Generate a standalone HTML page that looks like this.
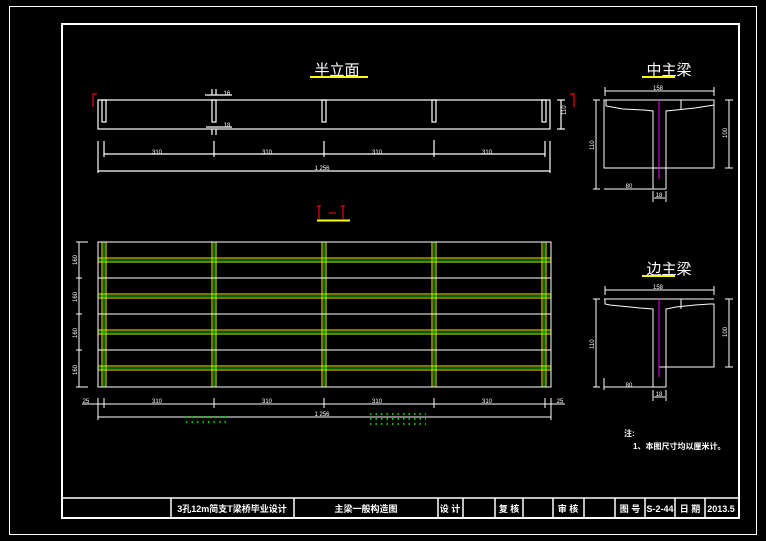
<!DOCTYPE html>
<html><head><meta charset="utf-8"><style>
html,body{margin:0;padding:0;background:#000;}
svg{display:block}
text{font-family:"Liberation Sans","Noto Sans CJK SC",sans-serif;fill:#fff}
</style></head><body>
<svg width="766" height="541" viewBox="0 0 766 541" xmlns="http://www.w3.org/2000/svg">
<rect x="0" y="0" width="766" height="541" fill="#000"/>
<rect x="9.5" y="6.5" width="747" height="528" fill="none" stroke="#fff" stroke-width="1"/>
<rect x="62" y="24" width="677" height="494" fill="none" stroke="#fff" stroke-width="2"/>
<g stroke="#fff" stroke-width="1.5" fill="none">
<line x1="62" y1="498" x2="739" y2="498"/>
<line x1="171" y1="498" x2="171" y2="518"/>
<line x1="294" y1="498" x2="294" y2="518"/>
<line x1="438" y1="498" x2="438" y2="518"/>
<line x1="463" y1="498" x2="463" y2="518"/>
<line x1="495" y1="498" x2="495" y2="518"/>
<line x1="523" y1="498" x2="523" y2="518"/>
<line x1="553" y1="498" x2="553" y2="518"/>
<line x1="584" y1="498" x2="584" y2="518"/>
<line x1="615" y1="498" x2="615" y2="518"/>
<line x1="645" y1="498" x2="645" y2="518"/>
<line x1="675" y1="498" x2="675" y2="518"/>
<line x1="705" y1="498" x2="705" y2="518"/>
</g>
<g font-size="9" font-weight="bold">
<text x="232" y="512" text-anchor="middle">3孔12m简支T梁桥毕业设计</text>
<text x="366" y="512" text-anchor="middle">主梁一般构造图</text>
<text x="450" y="512" text-anchor="middle">设 计</text>
<text x="509" y="512" text-anchor="middle">复 核</text>
<text x="568" y="512" text-anchor="middle">审 核</text>
<text x="630" y="512" text-anchor="middle">图 号</text>
<text x="660" y="512" text-anchor="middle">S-2-44</text>
<text x="690" y="512" text-anchor="middle">日 期</text>
<text x="721" y="512" text-anchor="middle">2013.5</text>
</g>

<text x="337" y="75" font-size="15" text-anchor="middle">半立面</text>
<line x1="310" y1="77" x2="368" y2="77" stroke="#ff0" stroke-width="2"/>
<g stroke="#fff" stroke-width="1.2" fill="none">
<rect x="98" y="100" width="452" height="29"/>
<rect x="102" y="100" width="4" height="22"/>
<rect x="212" y="100" width="4" height="22"/>
<rect x="322" y="100" width="4" height="22"/>
<rect x="432" y="100" width="4" height="22"/>
<rect x="542" y="100" width="4" height="22"/>
<line x1="205" y1="95" x2="232" y2="95"/><line x1="212" y1="89" x2="212" y2="95"/><line x1="216" y1="89" x2="216" y2="95"/>
<line x1="206" y1="127" x2="232" y2="127"/><line x1="212" y1="129" x2="212" y2="135"/><line x1="216" y1="129" x2="216" y2="135"/>
<line x1="561" y1="100" x2="561" y2="129"/><line x1="557" y1="100" x2="565" y2="100"/><line x1="557" y1="129" x2="565" y2="129"/>
<line x1="104" y1="154" x2="545" y2="154"/>
<line x1="104" y1="141" x2="104" y2="157"/><line x1="214" y1="141" x2="214" y2="157"/><line x1="324" y1="141" x2="324" y2="157"/><line x1="434" y1="140" x2="434" y2="157"/><line x1="545" y1="141" x2="545" y2="157"/>
<line x1="98" y1="171" x2="550" y2="171"/>
<line x1="98" y1="141" x2="98" y2="173"/><line x1="550" y1="141" x2="550" y2="173"/>
</g>
<g font-size="6" text-anchor="middle">
<text x="227" y="95">16</text><text x="227" y="127">18</text>
<text x="157" y="154">310</text><text x="267" y="154">310</text><text x="377" y="154">310</text><text x="487" y="154">310</text>
<text x="322" y="170">1 256</text>
</g>
<text x="563" y="118" font-size="6" transform="rotate(-90 563 115)">110</text>
<g stroke="#e00" stroke-width="1.2" fill="none">
<polyline points="93,107 93,94 97,94"/><polyline points="574,107 574,94 570,94"/>
<line x1="319" y1="206" x2="319" y2="219"/><line x1="343" y1="206" x2="343" y2="219"/>
<line x1="317" y1="206" x2="321" y2="206"/><line x1="341" y1="206" x2="345" y2="206"/>
<line x1="329" y1="213" x2="336" y2="213"/>
</g>
<line x1="317" y1="220.5" x2="350" y2="220.5" stroke="#ff0" stroke-width="2"/>

<g fill="none">
<g stroke="#ee0" stroke-width="1">
<line x1="98" y1="258" x2="551" y2="258"/><line x1="98" y1="262" x2="551" y2="262"/>
<line x1="98" y1="294" x2="551" y2="294"/><line x1="98" y1="298" x2="551" y2="298"/>
<line x1="98" y1="330" x2="551" y2="330"/><line x1="98" y1="334" x2="551" y2="334"/>
<line x1="98" y1="366" x2="551" y2="366"/><line x1="98" y1="370" x2="551" y2="370"/>
<line x1="102" y1="242" x2="102" y2="387"/><line x1="106" y1="242" x2="106" y2="387"/>
<line x1="212" y1="242" x2="212" y2="387"/><line x1="216" y1="242" x2="216" y2="387"/>
<line x1="322" y1="242" x2="322" y2="387"/><line x1="326" y1="242" x2="326" y2="387"/>
<line x1="432" y1="242" x2="432" y2="387"/><line x1="436" y1="242" x2="436" y2="387"/>
<line x1="542" y1="242" x2="542" y2="387"/><line x1="546" y1="242" x2="546" y2="387"/>
</g>
<g stroke="#0f0" stroke-width="0.8">
<line x1="98" y1="260" x2="551" y2="260"/><line x1="98" y1="296" x2="551" y2="296"/>
<line x1="98" y1="332" x2="551" y2="332"/><line x1="98" y1="368" x2="551" y2="368"/>
<line x1="104" y1="242" x2="104" y2="387"/><line x1="214" y1="242" x2="214" y2="387"/>
<line x1="324" y1="242" x2="324" y2="387"/><line x1="434" y1="242" x2="434" y2="387"/>
<line x1="544" y1="242" x2="544" y2="387"/>
</g>
<g stroke="#fff" stroke-width="1">
<rect x="98" y="242" width="453" height="145"/>
<line x1="98" y1="278" x2="551" y2="278"/><line x1="98" y1="314" x2="551" y2="314"/><line x1="98" y1="350" x2="551" y2="350"/>
<line x1="79" y1="242" x2="79" y2="387"/>
<line x1="76" y1="242" x2="88" y2="242"/><line x1="76" y1="278" x2="82" y2="278"/><line x1="76" y1="314" x2="82" y2="314"/><line x1="76" y1="350" x2="82" y2="350"/><line x1="76" y1="387" x2="88" y2="387"/>
<line x1="82" y1="404" x2="565" y2="404"/>
<line x1="98" y1="398" x2="98" y2="420"/><line x1="104" y1="398" x2="104" y2="408"/><line x1="214" y1="398" x2="214" y2="408"/><line x1="324" y1="398" x2="324" y2="408"/><line x1="434" y1="398" x2="434" y2="408"/><line x1="545" y1="398" x2="545" y2="408"/><line x1="551" y1="398" x2="551" y2="420"/>
<line x1="98" y1="417" x2="551" y2="417"/>
</g>
</g>
<g font-size="6" text-anchor="middle">
<text x="86" y="403">25</text><text x="560" y="403">25</text>
<text x="157" y="403">310</text><text x="267" y="403">310</text><text x="377" y="403">310</text><text x="487" y="403">310</text>
<text x="322" y="416">1 256</text>
</g>
<g font-size="6">
<text x="0" y="0" transform="translate(77,265) rotate(-90)">160</text>
<text x="0" y="0" transform="translate(77,302) rotate(-90)">160</text>
<text x="0" y="0" transform="translate(77,338) rotate(-90)">160</text>
<text x="0" y="0" transform="translate(77,375) rotate(-90)">160</text>
</g>
<g stroke="#0f0" stroke-width="1.5" stroke-dasharray="1.5 4">
<line x1="186" y1="417" x2="228" y2="417"/><line x1="186" y1="422" x2="228" y2="422"/>
<line x1="370" y1="414" x2="426" y2="414"/><line x1="370" y1="419" x2="426" y2="419"/><line x1="370" y1="424" x2="426" y2="424"/>
</g>

<text x="669" y="75" font-size="15" text-anchor="middle">中主梁</text>
<line x1="642" y1="77" x2="675" y2="77" stroke="#ff0" stroke-width="2"/>
<g stroke="#fff" stroke-width="1" fill="none">
<line x1="605" y1="91" x2="714" y2="91"/><line x1="605" y1="87" x2="605" y2="96"/><line x1="714" y1="87" x2="714" y2="96"/>
<rect x="604" y="100" width="110" height="68"/>
<polyline points="606,100 606,106 623,109 644,110 653,111 653,189"/>
<polyline points="666,189 666,111 676,110 695,108 714,105"/>
<line x1="604" y1="189" x2="666" y2="189"/>
<line x1="596" y1="100" x2="596" y2="189"/><line x1="593" y1="100" x2="600" y2="100"/><line x1="593" y1="189" x2="600" y2="189"/>
<line x1="729" y1="100" x2="729" y2="168"/><line x1="725" y1="100" x2="733" y2="100"/><line x1="725" y1="168" x2="733" y2="168"/>
<line x1="654" y1="198" x2="665" y2="198"/><line x1="653" y1="191" x2="653" y2="202"/><line x1="666" y1="191" x2="666" y2="202"/>
<line x1="681" y1="100" x2="681" y2="110"/>
</g>
<line x1="659" y1="100" x2="659" y2="179" stroke="#e0e" stroke-width="1"/>
<g font-size="6" text-anchor="middle"><text x="658" y="90">158</text><text x="629" y="188">80</text><text x="659" y="197">18</text></g>
<text font-size="6" transform="translate(594,150) rotate(-90)">110</text>
<text font-size="6" transform="translate(727,138) rotate(-90)">100</text>

<text x="669" y="274" font-size="15" text-anchor="middle">边主梁</text>
<line x1="642" y1="276" x2="675" y2="276" stroke="#ff0" stroke-width="2"/>
<g stroke="#fff" stroke-width="1" fill="none">
<line x1="605" y1="290" x2="714" y2="290"/><line x1="605" y1="286" x2="605" y2="295"/><line x1="714" y1="286" x2="714" y2="295"/>
<line x1="604" y1="299" x2="714" y2="299"/>
<polyline points="605,299 605,304 610,305 620,306 630,307 640,308 653,309 653,387"/>
<polyline points="666,387 666,309 676,307 695,305 710,304 714,304 714,367 659,367"/>
<line x1="604" y1="387" x2="666" y2="387"/>
<line x1="604" y1="378" x2="604" y2="390"/>
<line x1="596" y1="299" x2="596" y2="387"/><line x1="593" y1="299" x2="600" y2="299"/><line x1="593" y1="387" x2="600" y2="387"/>
<line x1="729" y1="299" x2="729" y2="367"/><line x1="725" y1="299" x2="733" y2="299"/><line x1="725" y1="367" x2="733" y2="367"/>
<line x1="654" y1="397" x2="665" y2="397"/><line x1="653" y1="390" x2="653" y2="401"/><line x1="666" y1="390" x2="666" y2="401"/>
<line x1="681" y1="299" x2="681" y2="309"/>
</g>
<line x1="659" y1="299" x2="659" y2="377" stroke="#e0e" stroke-width="1"/>
<g font-size="6" text-anchor="middle"><text x="658" y="289">158</text><text x="629" y="387">80</text><text x="659" y="396">18</text></g>
<text font-size="6" transform="translate(594,349) rotate(-90)">110</text>
<text font-size="6" transform="translate(727,337) rotate(-90)">100</text>

<text x="624" y="436" font-size="8" font-weight="bold">注:</text>
<text x="633" y="449" font-size="8" font-weight="bold">1、本图尺寸均以厘米计。</text>
</svg>
</body></html>
